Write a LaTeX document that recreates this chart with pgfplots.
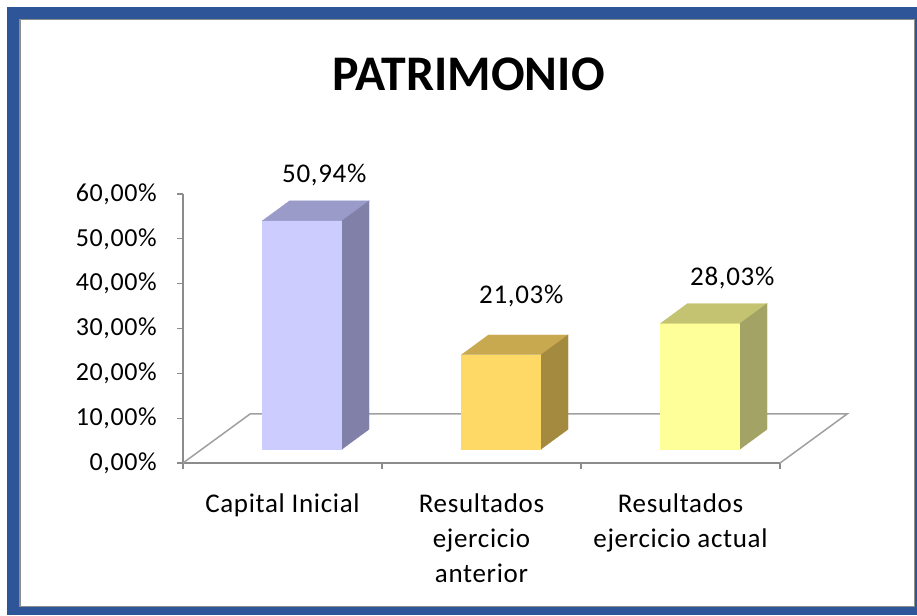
\documentclass[border=0pt]{standalone}
\usepackage{fontspec}
\setmainfont{Carlito}
\newfontfamily\lsfont[LetterSpace=2.5]{Carlito}
\usepackage{pgfplots}
\pgfplotsset{compat=1.18}
\definecolor{frameblue}{HTML}{2E5597}
\definecolor{framegray}{HTML}{8E8E8E}
\definecolor{axisgray}{HTML}{8C8C8C}
\definecolor{floorgray}{HTML}{A0A0A0}
\definecolor{bAf}{HTML}{CCCCFF}
\definecolor{bAt}{HTML}{9B9BC9}
\definecolor{bAs}{HTML}{8080A8}
\definecolor{bBf}{HTML}{FFD966}
\definecolor{bBt}{HTML}{C9A94F}
\definecolor{bBs}{HTML}{A38A3F}
\definecolor{bCf}{HTML}{FFFF99}
\definecolor{bCt}{HTML}{C3C372}
\definecolor{bCs}{HTML}{A3A366}
\begin{document}
\begin{tikzpicture}
\useasboundingbox (0pt,0pt) rectangle (917pt,615pt);
\fill[frameblue] (7pt,0pt) rectangle (917pt,608pt);
\fill[white] (19pt,8pt) rectangle (915pt,596pt);
\draw[framegray, line width=1.5pt] (19.75pt,8.75pt) rectangle (914.25pt,595.25pt);
\node[font=\fontsize{49.8}{50}\selectfont\bfseries] at (468.5pt,540.5pt) {PATRIMONIO};
\begin{axis}[
  at={(183pt,152pt)}, anchor=south west,
  scale only axis, width=597pt, height=269pt,
  xmin=0, xmax=3, ymin=0, ymax=60,
  clip=false,
  axis x line=bottom, axis y line=left,
  axis line style={-, draw=axisgray, line width=1.6pt},
  tick align=outside, major tick length=6pt,
  tick style={draw=axisgray, line width=1.2pt},
  ytick={0,10,20,30,40,50,60},
  yticklabels={{0,00\%},{10,00\%},{20,00\%},{30,00\%},{40,00\%},{50,00\%},{60,00\%}},
  yticklabel style={font=\lsfont\fontsize{26}{26}\selectfont, inner sep=0pt, anchor=east, xshift=-20pt},
  xtick={0,1,2,3}, xticklabels={,,,},
  extra x ticks={0.5,1.5,2.5},
  extra x tick labels={Capital Inicial,{Resultados\\ejercicio\\anterior},{Resultados\\ejercicio actual}},
  extra x tick style={major tick length=0pt,
    tick label style={font=\lsfont\fontsize{27}{35}\selectfont, align=center, inner sep=0pt, anchor=north, yshift=-31pt}},
  point meta=explicit symbolic,
]
% floor
\addplot[draw=floorgray, line width=1.5pt, mark=none] coordinates {(0,0) (0.337,10.93) (3.337,10.93) (3,0)};
% bar 1: 50.94
\addplot[fill=bAf, draw=bAf, line width=0.3pt, mark=none] coordinates {(0.40,3.125) (0.80,3.125) (0.80,54.065) (0.40,54.065)} -- cycle;
\addplot[fill=bAt, draw=bAt, line width=0.3pt, mark=none] coordinates {(0.40,54.065) (0.80,54.065) (0.935,58.465) (0.535,58.465)} -- cycle;
\addplot[fill=bAs, draw=bAs, line width=0.3pt, mark=none] coordinates {(0.80,3.125) (0.935,7.525) (0.935,58.465) (0.80,54.065)} -- cycle;
% bar 2: 21.03
\addplot[fill=bBf, draw=bBf, line width=0.3pt, mark=none] coordinates {(1.40,3.125) (1.80,3.125) (1.80,24.155) (1.40,24.155)} -- cycle;
\addplot[fill=bBt, draw=bBt, line width=0.3pt, mark=none] coordinates {(1.40,24.155) (1.80,24.155) (1.935,28.555) (1.535,28.555)} -- cycle;
\addplot[fill=bBs, draw=bBs, line width=0.3pt, mark=none] coordinates {(1.80,3.125) (1.935,7.525) (1.935,28.555) (1.80,24.155)} -- cycle;
% bar 3: 28.03
\addplot[fill=bCf, draw=bCf, line width=0.3pt, mark=none] coordinates {(2.40,3.125) (2.80,3.125) (2.80,31.155) (2.40,31.155)} -- cycle;
\addplot[fill=bCt, draw=bCt, line width=0.3pt, mark=none] coordinates {(2.40,31.155) (2.80,31.155) (2.935,35.555) (2.535,35.555)} -- cycle;
\addplot[fill=bCs, draw=bCs, line width=0.3pt, mark=none] coordinates {(2.80,3.125) (2.935,7.525) (2.935,35.555) (2.80,31.155)} -- cycle;
% data labels
\addplot[draw=none, mark=none, nodes near coords,
  every node near coord/.append style={anchor=center, inner sep=0pt, font=\lsfont\fontsize{27}{27}\selectfont}]
  coordinates {(0.71,64.3) [50,94\%] (1.70,37.3) [21,03\%] (2.76,41.3) [28,03\%]};
\end{axis}
\end{tikzpicture}
\end{document}
